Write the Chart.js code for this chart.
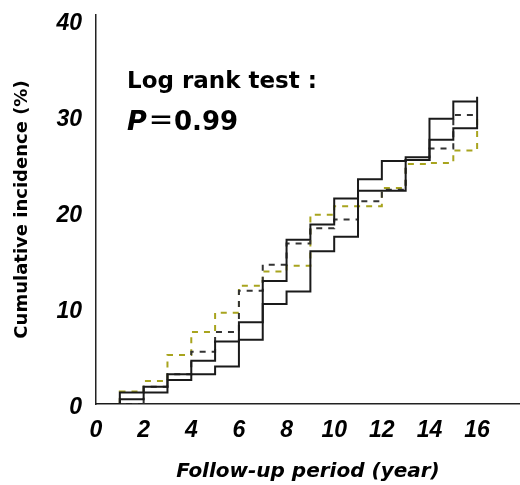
<!DOCTYPE html>
<html>
<head>
<meta charset="utf-8">
<script src="https://cdn.jsdelivr.net/npm/chart.js@4.4.0/dist/chart.umd.min.js"></script>
<style>
  html, body { margin: 0; padding: 0; background: #fff; }
  #wrap { width: 520px; height: 485px; position: relative; }
</style>
</head>
<body>
<div id="wrap"><canvas id="incidenceChart"></canvas></div>
<script>
// годы наблюдения и накопленная частота (%) по каждой группе
const years = [0, 1, 2, 3, 4, 5, 6, 7, 8, 9, 10, 11, 12, 13, 14, 15, 16];
const solidUpper = [0, 1.2, 1.8, 3.1, 4.5, 6.5, 8.5, 12.8, 17.1, 18.7, 21.4, 23.4, 25.3, 25.7, 29.7, 31.5, 31.5];
const solidLower = [0, 0.5, 1.2, 2.5, 3.1, 3.9, 6.7, 10.4, 11.7, 15.9, 17.4, 22.2, 22.2, 25.4, 27.5, 28.7, 32.0];
const dashedBlack = [0, 0, 1.8, 3.1, 5.45, 7.5, 11.8, 14.5, 16.7, 18.3, 19.2, 21.1, 22.3, 25.4, 26.6, 30.1, 30.1];
const dashedOlive = [0, 1.3, 2.4, 5.1, 7.5, 9.5, 12.3, 13.8, 14.4, 19.7, 20.6, 20.6, 22.5, 25.0, 25.1, 26.4, 30.1];

const xTickValues = [0, 2, 4, 6, 8, 10, 12, 14, 16];
const yTickValues = [0, 10, 20, 30, 40];

const testLabel = 'Log rank test :';
const pLabel = 'P';
const pValue = '＝0.99';

function toPoints(values) {
    return years.map((x, i) => ({ x: x, y: values[i] }));
}

// подпись с результатом теста
const testText = {
    id: 'testText',
    afterDraw(chart) {
        const ctx = chart.ctx;
        ctx.save();
        ctx.fillStyle = '#000';
        ctx.textBaseline = 'alphabetic';
        ctx.font = 'bold 23px "DejaVu Sans"';
        ctx.fillText(testLabel, 127, 88);
        ctx.font = 'italic bold 27px "DejaVu Sans"';
        ctx.fillText(pLabel, 127, 130);
        ctx.font = 'bold 26px "DejaVu Sans", "Noto Sans CJK JP"';
        ctx.fillText(pValue, 148, 130);
        ctx.restore();
    }
};

document.addEventListener('DOMContentLoaded', function() {
    const ctx = document.getElementById('incidenceChart').getContext('2d');

    const common = { stepped: true, pointRadius: 0, borderWidth: 2, fill: false, tension: 0 };

    new Chart(ctx, {
        type: 'line',
        data: {
            datasets: [
                Object.assign({ label: 'A', data: toPoints(solidUpper), borderColor: '#1a1a1a' }, common),
                Object.assign({ label: 'B', data: toPoints(solidLower), borderColor: '#1a1a1a' }, common),
                Object.assign({ label: 'C', data: toPoints(dashedBlack), borderColor: '#333', borderDash: [6, 6] }, common),
                Object.assign({ label: 'D', data: toPoints(dashedOlive), borderColor: '#a8a41e', borderDash: [6, 6] }, common)
            ]
        },
        options: {
            responsive: true,
            maintainAspectRatio: false,
            animation: false,
            layout: { padding: { top: 15, right: 0, bottom: 0, left: 0 } },
            plugins: {
                legend: { display: false },
                tooltip: { enabled: false }
            },
            scales: {
                x: {
                    type: 'linear',
                    min: 0,
                    max: 17.8,
                    afterBuildTicks: s => { s.ticks = xTickValues.map(v => ({ value: v })); },
                    afterFit: s => { s.height = 81; s.paddingLeft = 0; s.paddingRight = 0; },
                    grid: { display: false, drawTicks: false },
                    border: { display: true, color: '#222', width: 1.5 },
                    ticks: {
                        color: '#000',
                        padding: 13,
                        maxRotation: 0,
                        font: { family: 'Liberation Sans', size: 23, weight: 'bold', style: 'italic' }
                    },
                    title: {
                        display: true,
                        text: 'Follow-up period (year)',
                        color: '#000',
                        padding: { top: 0, bottom: 1 },
                        font: { family: 'DejaVu Sans', size: 20, weight: 'bold', style: 'oblique' }
                    }
                },
                y: {
                    min: 0,
                    max: 40.5,
                    afterBuildTicks: s => { s.ticks = yTickValues.map(v => ({ value: v })); },
                    afterFit: s => { s.width = 96; s.paddingTop = 0; s.paddingBottom = 0; },
                    grid: { display: false, drawTicks: false },
                    border: { display: true, color: '#222', width: 1.5 },
                    ticks: {
                        color: '#000',
                        padding: 14,
                        labelOffset: 4,
                        font: { family: 'Liberation Sans', size: 23, weight: 'bold', style: 'italic' }
                    },
                    title: {
                        display: true,
                        text: 'Cumulative incidence (%)',
                        color: '#000',
                        padding: { top: 12, bottom: 0 },
                        font: { family: 'DejaVu Sans', size: 18, weight: 'bold' }
                    }
                }
            }
        },
        plugins: [testText]
    });
});
</script>
</body>
</html>
